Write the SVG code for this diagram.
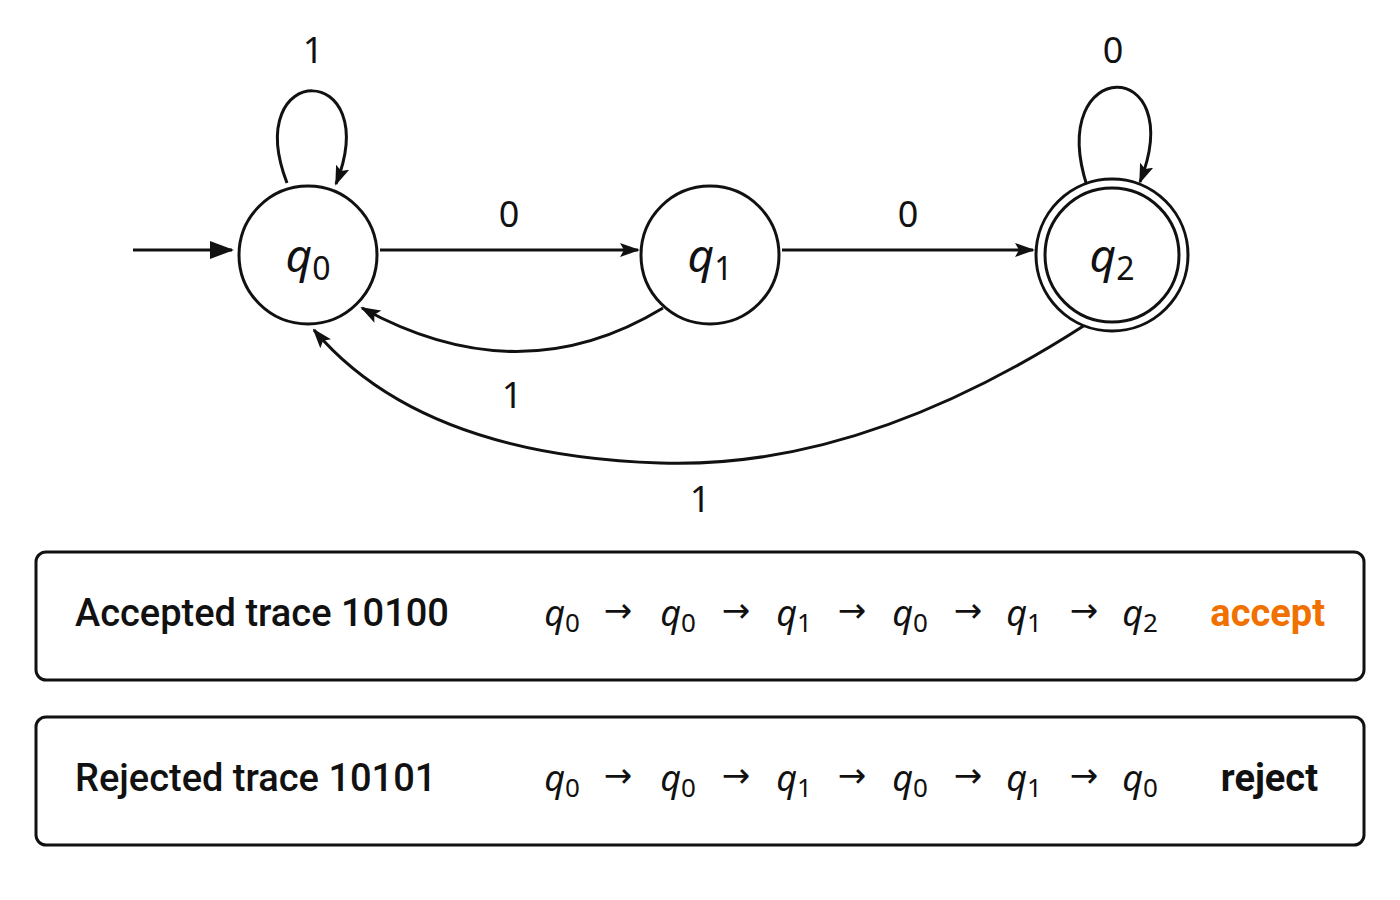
<svg xmlns="http://www.w3.org/2000/svg" width="1400" height="900" viewBox="0 0 1400 900">
<style>
.st{fill:#fff;stroke:#111;stroke-width:3}
.e{fill:none;stroke:#111;stroke-width:3}
.lbl{font-family:"Noto Sans",sans-serif;font-size:36px;fill:#111;text-anchor:middle}
.q{font-family:"Noto Sans",sans-serif;font-style:italic;font-size:46px;fill:#111;text-anchor:middle}
.tr{font-family:"Noto Sans",sans-serif;font-size:36px;fill:#111;text-anchor:middle}
.ar{font-family:"DejaVu Sans",sans-serif;font-size:34px;fill:#111;text-anchor:middle}
.ti{font-family:"Roboto",sans-serif;font-weight:500;font-size:38px;fill:#111}
.box{fill:#fff;stroke:#111;stroke-width:3}
</style>
<defs>
<marker id="a" viewBox="0 0 20 14" refX="18" refY="7" markerWidth="20" markerHeight="14" orient="auto" markerUnits="userSpaceOnUse">
<path d="M0,0 L20,7 L0,14 L4,7 Z" fill="#111"/>
</marker>
<marker id="b" viewBox="0 0 24 18" refX="22" refY="9" markerWidth="24" markerHeight="18" orient="auto" markerUnits="userSpaceOnUse">
<path d="M0,0 L24,9 L0,18 Z" fill="#111"/>
</marker>
</defs>
<g id="edges">
<path class="e" d="M133,250 L232,250" marker-end="url(#b)" stroke-width="4.5"/>
<path class="e" d="M380,250 L638,250" marker-end="url(#a)"/>
<path class="e" d="M782,250 L1033,250" marker-end="url(#a)"/>
<path class="e" d="M663,308 Q520,395 362,308" marker-end="url(#a)"/>
<path class="e" d="M1085,325 Q860,470 660,463 Q420,455 314,330" marker-end="url(#a)"/>
<path class="e" d="M287,183 C240,60 385,60 336,184" marker-end="url(#a)"/>
<path class="e" d="M1087,186 C1045,55 1190,55 1140,182" marker-end="url(#a)"/>
<text class="lbl" x="313" y="63">1</text>
<text class="lbl" x="1113" y="63">0</text>
<text class="lbl" x="509" y="227">0</text>
<text class="lbl" x="908" y="227">0</text>
<text class="lbl" x="512" y="408">1</text>
<text class="lbl" x="700" y="512">1</text>
</g>
<g id="q0"><circle class="st" cx="308" cy="255" r="69"/><text class="q" x="308" y="272">q<tspan font-size="32" font-style="normal" dy="8">0</tspan></text></g>
<g id="q1"><circle class="st" cx="710" cy="255" r="69"/><text class="q" x="710" y="272">q<tspan font-size="32" font-style="normal" dy="8">1</tspan></text></g>
<g id="q2"><circle class="st" cx="1112" cy="255" r="76"/><circle class="st" cx="1112" cy="255" r="67"/><text class="q" x="1112" y="272">q<tspan font-size="32" font-style="normal" dy="8">2</tspan></text></g>
<g id="accepted">
<rect class="box" x="36" y="552" width="1328" height="128" rx="10"/>
<text class="ti" x="75" y="626">Accepted trace 10100</text>
<text class="tr" y="626"><tspan x="562" font-style="italic">q<tspan font-size="26" font-style="normal" dy="6">0</tspan></tspan></text>
<text class="tr" y="626"><tspan x="678" font-style="italic">q<tspan font-size="26" font-style="normal" dy="6">0</tspan></tspan></text>
<text class="tr" y="626"><tspan x="794" font-style="italic">q<tspan font-size="26" font-style="normal" dy="6">1</tspan></tspan></text>
<text class="tr" y="626"><tspan x="910" font-style="italic">q<tspan font-size="26" font-style="normal" dy="6">0</tspan></tspan></text>
<text class="tr" y="626"><tspan x="1024" font-style="italic">q<tspan font-size="26" font-style="normal" dy="6">1</tspan></tspan></text>
<text class="tr" y="626"><tspan x="1140" font-style="italic">q<tspan font-size="26" font-style="normal" dy="6">2</tspan></tspan></text>
<text class="ar" y="622"><tspan x="618">→</tspan><tspan x="736">→</tspan><tspan x="852">→</tspan><tspan x="968">→</tspan><tspan x="1084">→</tspan></text>
<text x="1325" y="626" text-anchor="end" style="font-family:Roboto,sans-serif;font-weight:700;font-size:38px;fill:#f07000">accept</text>
</g>
<g id="rejected">
<rect class="box" x="36" y="717" width="1328" height="128" rx="10"/>
<text class="ti" x="75" y="791">Rejected trace 10101</text>
<text class="tr" y="791"><tspan x="562" font-style="italic">q<tspan font-size="26" font-style="normal" dy="6">0</tspan></tspan></text>
<text class="tr" y="791"><tspan x="678" font-style="italic">q<tspan font-size="26" font-style="normal" dy="6">0</tspan></tspan></text>
<text class="tr" y="791"><tspan x="794" font-style="italic">q<tspan font-size="26" font-style="normal" dy="6">1</tspan></tspan></text>
<text class="tr" y="791"><tspan x="910" font-style="italic">q<tspan font-size="26" font-style="normal" dy="6">0</tspan></tspan></text>
<text class="tr" y="791"><tspan x="1024" font-style="italic">q<tspan font-size="26" font-style="normal" dy="6">1</tspan></tspan></text>
<text class="tr" y="791"><tspan x="1140" font-style="italic">q<tspan font-size="26" font-style="normal" dy="6">0</tspan></tspan></text>
<text class="ar" y="787"><tspan x="618">→</tspan><tspan x="736">→</tspan><tspan x="852">→</tspan><tspan x="968">→</tspan><tspan x="1084">→</tspan></text>
<text x="1318" y="791" text-anchor="end" style="font-family:Roboto,sans-serif;font-weight:700;font-size:38px;fill:#111">reject</text>
</g>
</svg>
